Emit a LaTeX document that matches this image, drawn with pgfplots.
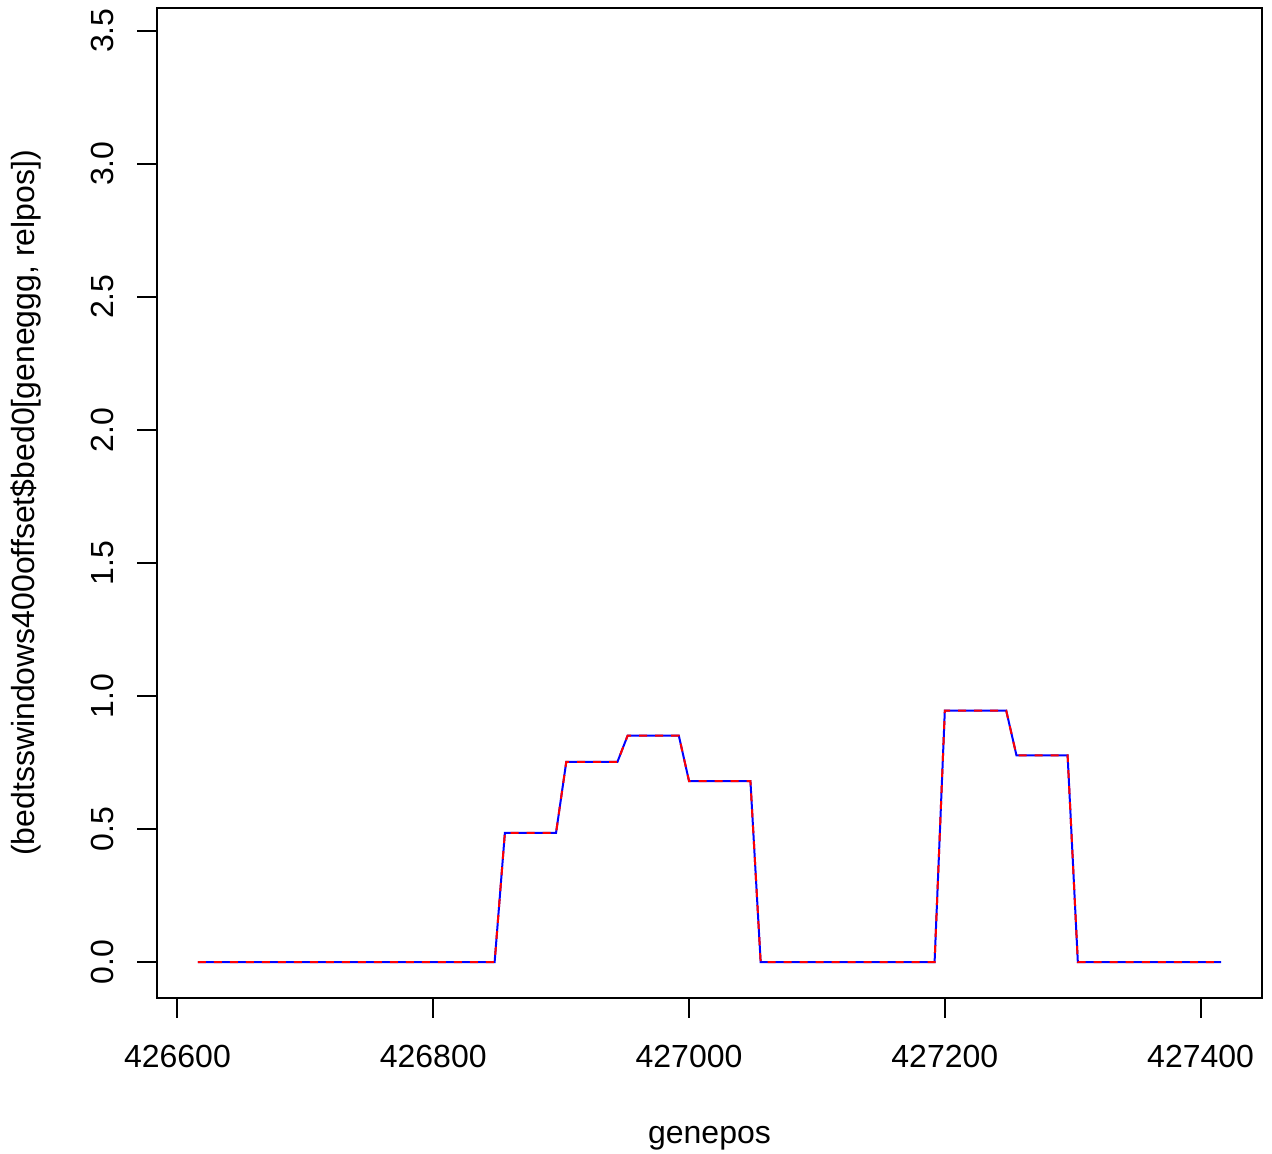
\documentclass[border=0pt]{standalone}
\usepackage{fontspec}
\setmainfont{Liberation Sans}
\usepackage{pgfplots}
\pgfplotsset{compat=1.18}
\definecolor{rblue}{HTML}{0000FF}
\definecolor{rred}{HTML}{FF0000}
\begin{document}
\begin{tikzpicture}
\useasboundingbox (-58.875pt,-58.5pt) rectangle (418.125pt,374.25pt);
\begin{axis}[
  at={(0pt,0pt)}, anchor=south west,
  scale only axis,
  width=414.375pt, height=371.25pt,
  xmin=426584, xmax=427448,
  ymin=-0.135, ymax=3.585,
  axis line style={line width=0.75pt, black},
  every tick/.style={line width=0.75pt, black},
  tick align=outside,
  major tick length=7.5pt,
  xtick pos=bottom, ytick pos=left,
  xtick={426600,426800,427000,427200,427400},
  xticklabels={426600,426800,427000,427200,427400},
  ytick={0,0.5,1,1.5,2,2.5,3,3.5},
  yticklabels={0.0,0.5,1.0,1.5,2.0,2.5,3.0,3.5},
  scaled x ticks=false, scaled y ticks=false,
  xticklabel style={font=\fontsize{12}{14}\selectfont, anchor=base, inner sep=0pt, yshift=-18.75pt},
  yticklabel style={font=\fontsize{12}{14}\selectfont, xshift=-9pt, rotate=90, anchor=base, inner sep=0pt},
  xlabel={genepos},
  ylabel={(bedtsswindows400offset\$bed0[geneggg, relpos])},
  xlabel style={font=\fontsize{12}{14}\selectfont, at={([yshift=-54.4pt]axis description cs:0.5,0)}, anchor=base, inner sep=0pt},
  ylabel style={font=\fontsize{12}{14}\selectfont, at={([xshift=-45.75pt]axis description cs:0,0.5)}, rotate=0, anchor=base, inner sep=0pt},
  clip=true,
]
\addplot[color=rblue, line width=0.75pt, solid] coordinates {
(426616,0) (426848,0) (426856,0.485) (426896,0.485) (426904,0.752) (426944,0.752)
(426952,0.851) (426992,0.851) (427000,0.680) (427048,0.680) (427056,0) (427192,0)
(427200,0.945) (427248,0.945) (427256,0.777) (427296,0.777) (427304,0) (427416,0)
};
\addplot[color=rred, line width=0.75pt, dash pattern=on 3pt off 3pt] coordinates {
(426616,0) (426848,0) (426856,0.485) (426896,0.485) (426904,0.752) (426944,0.752)
(426952,0.851) (426992,0.851) (427000,0.680) (427048,0.680) (427056,0) (427192,0)
(427200,0.945) (427248,0.945) (427256,0.777) (427296,0.777) (427304,0) (427416,0)
};
\end{axis}
\end{tikzpicture}
\end{document}
